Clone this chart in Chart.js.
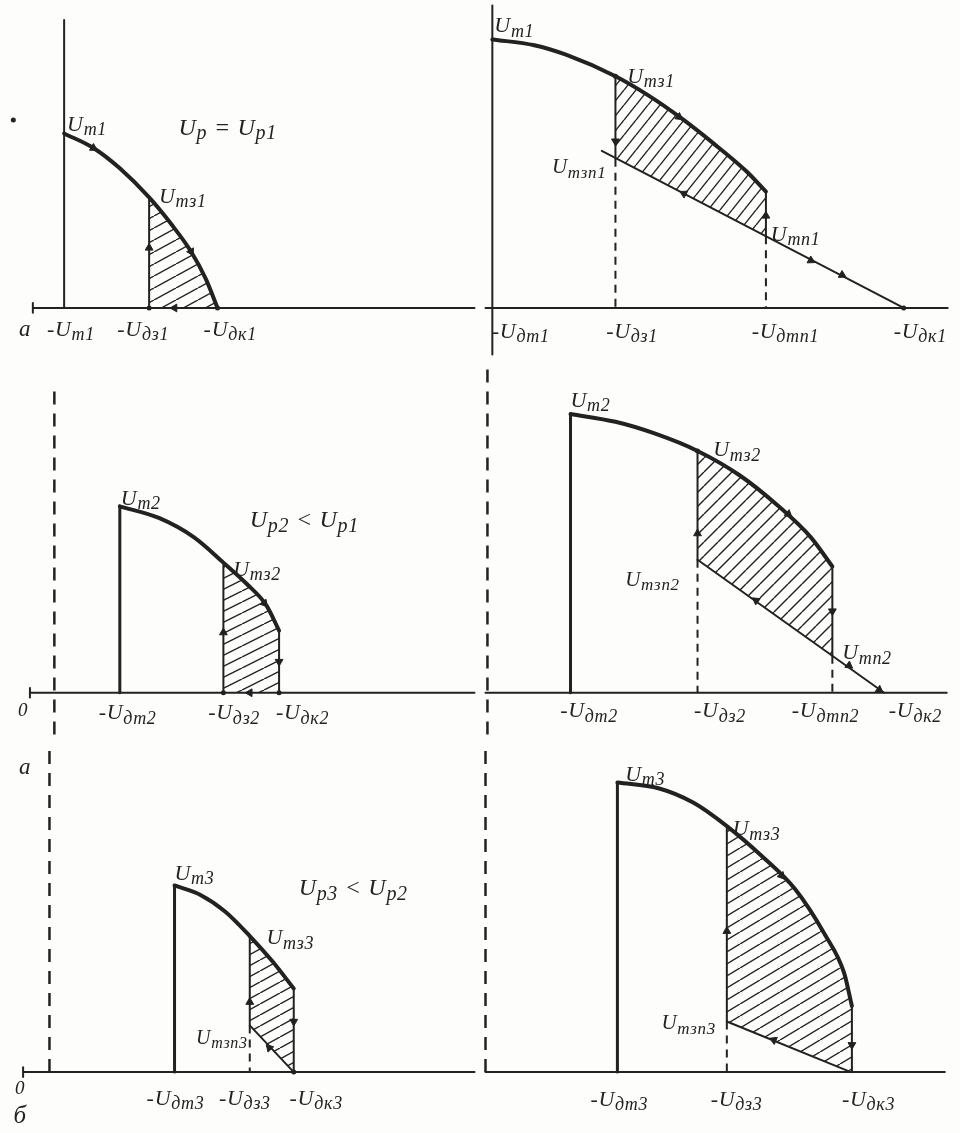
<!DOCTYPE html>
<html>
<head>
<meta charset="utf-8">
<title>Характеристики</title>
<script src="https://cdn.jsdelivr.net/npm/chart.js@4.4.1/dist/chart.umd.min.js"></script>
<style>
  body { margin: 0; background: #fdfdfc; }
  #sheet { position: relative; width: 960px; height: 1133px; overflow: hidden; }
  #sheet canvas { position: absolute; }
</style>
</head>
<body>
<div id="sheet"></div>
<script>
// six panels, values: x to the right of each panel's vertical axis, y above its horizontal axis

// thick working characteristic of every panel
const curves = [
  [[0,180],[30,165],[57,144],[87,114],[110,86],[130,58],[145,30],[157,0]],
  [[0,277],[43,271],[76,261],[126,239],[160,219],[193,196],[226,170],[260,141],[280,120]],
  [[67,192],[107,180],[143,160],[173,134],[197,112],[217,90],[230,64]],
  [[85,287],[131,279],[171,267],[215,249],[258,224],[298,192],[331,160],[353,130]],
  [[128,192],[155,182],[180,165],[205,140],[229,113],[250,86]],
  [[135,298],[177,292],[213,277],[247,253],[283,222],[317,188],[347,142],[367,102],[375,68]]
];
// bottom corners of the hatched zone: [left, right]
const hatchFoot = [
  [[87,0],[157,0]],
  [[126,154],[280,74]],
  [[173,0],[230,0]],
  [[215,137],[353,38]],
  [[205,48],[250,0]],
  [[247,52],[375,0]]
];
// sloping load line
const lowerLines = [
  null,
  [[112,162],[421,0]],
  null,
  [[215,137],[406,0]],
  [[205,48],[250,0]],
  [[247,52],[374,0]]
];
// horizontal axis extent, vertical axis extent, dashed vertical axis, small tick on the axis
const xAxes = [[-32,420],[-7,466],[-25,430],[-2,470],[-27,435],[0,470]];
const yAxes = [[0,297],[-48,312],[-43,317],[-43,337],[0,336],[0,336]];
const yDashed = [false, false, true, true, true, true];
const axisTicks = [-32, null, -25, null, -27, null];
// direction arrows: [x, y, angle clockwise from up]
const arrows = [
  [[30,165,120],[130,58,150],[87,62,0],[113,0,270]],
  [[191,197,127],[126,172,180],[280,95,0],[196,118,298],[326,49,118],[358,34,118]],
  [[215,92,140],[173,62,0],[230,32,180],[200,0,270]],
  [[308,184,130],[215,164,0],[353,84,180],[275,95,306],[370,28,126],[401,3,126]],
  [[205,72,0],[250,52,180],[225,25,317]],
  [[303,202,140],[247,145,0],[375,28,180],[295,33,293]]
];
const dots = [
  [[87,0],[157,0],[-52,194]],
  [[126,239],[421,0]],
  [[173,0],[230,0]],
  [[215,249]],
  [[250,0]],
  []
];
// labels: [x, y, text, size]; "_" starts a subscript
const pointLabels = [
  [[3,190,'U_т1',22],[117,187,'U_р = U_р1',24],[97,116,'U_тз1',22]],
  [[2,292,'U_т1',22],[138,240,'U_тз1',22],[61,146,'U_тзп1',21],[285,77,'U_тп1',22]],
  [[68,201,'U_т2',22],[200,179,'U_р2 < U_р1',24],[183,128,'U_тз2',22]],
  [[85,302,'U_т2',22],[231,251,'U_тз2',22],[141,117,'U_тзп2',21],[363,42,'U_тп2',22]],
  [[128,205,'U_т3',22],[255,190,'U_р3 < U_р2',24],[222,139,'U_тз3',22],[150,36,'U_тзп3',20]],
  [[143,307,'U_т3',22],[253,251,'U_тз3',22],[180,51,'U_тзп3',21]]
];
const axisLabels = [
  [[-40,-21,'а',23],[7,-21,'-U_т1',22],[81,-21,'-U_дз1',22],[170,-21,'-U_дк1',22]],
  [[29,-23,'-U_дт1',22],[143,-23,'-U_дз1',22],[300,-23,'-U_дтп1',22],[438,-23,'-U_дк1',22]],
  [[-32,-18,'0',19],[75,-20,'-U_дт2',22],[184,-20,'-U_дз2',22],[254,-20,'-U_дк2',22]],
  [[104,-18,'-U_дт2',22],[238,-18,'-U_дз2',22],[346,-18,'-U_дтп2',22],[438,-18,'-U_дк2',22]],
  [[-25,314,'а',23],[-30,-16,'0',19],[-30,-44,'б',25],[129,-26,'-U_дт3',22],[200,-26,'-U_дз3',22],[273,-26,'-U_дк3',22]],
  [[137,-27,'-U_дт3',22],[257,-27,'-U_дз3',22],[392,-27,'-U_дк3',22]]
];

// layout of the six canvases: left, top, width, height, origin x, origin y (pixels)
const frames = [
  [0, 0, 480, 360, 60, 312],
  [480, 0, 480, 360, 7, 312],
  [0, 360, 480, 380, 50, 337],
  [480, 360, 480, 380, 2, 337],
  [0, 740, 480, 393, 45, 336],
  [480, 740, 480, 393, 0, 336]
];
const hatchTiles = [[22,12],[12,15],[22,11],[14,14],[20,11],[20,12]];

const INK = '#222222';
const HAND = '"Liberation Serif", "DejaVu Serif", serif';

function pts(a) { return a.map(p => ({x: p[0], y: p[1]})); }

function stroke(a, width, dash) {
  return {
    data: pts(a), borderColor: INK, borderWidth: width,
    borderDash: dash || [], borderCapStyle: dash ? 'butt' : 'round', borderJoinStyle: 'round',
    tension: 0, pointRadius: 0, fill: false, clip: false
  };
}

function hatchPattern(ctx, tile) {
  const [w, h] = tile;
  const c = document.createElement('canvas');
  c.width = w; c.height = h;
  const g = c.getContext('2d');
  g.strokeStyle = INK;
  g.lineWidth = 1.4;
  for (const dx of [-w, 0, w]) {
    g.beginPath(); g.moveTo(dx, h); g.lineTo(dx + w, 0); g.stroke();
  }
  return ctx.createPattern(c, 'repeat');
}

function panelSets(i) {
  const sets = [];
  const c = curves[i];
  const [left, right] = hatchFoot[i];
  let pat = null;
  // hatched zone: top part of the curve filled down to the line joining the two feet
  sets.push({
    data: pts(c.filter(p => p[0] >= left[0])), cubicInterpolationMode: 'monotone',
    fill: '+1', borderWidth: 0, pointRadius: 0, clip: false,
    backgroundColor: ctx => (pat = pat || hatchPattern(ctx.chart.ctx, hatchTiles[i]))
  });
  sets.push({ data: pts([left, right]), borderWidth: 0, pointRadius: 0, fill: false, clip: false, borderColor: 'rgba(0,0,0,0)' });
  sets.push(stroke([[xAxes[i][0], 0], [xAxes[i][1], 0]], 2));
  sets.push(stroke([[0, yAxes[i][0]], [0, yAxes[i][1]]], yDashed[i] ? 2.5 : 2, yDashed[i] ? [13, 9] : null));
  if (axisTicks[i] !== null) sets.push(stroke([[axisTicks[i], -5], [axisTicks[i], 5]], 2));
  if (c[0][0] > 0) sets.push(stroke([[c[0][0], 0], c[0]], 3));
  const curve = stroke(c, 4);
  curve.cubicInterpolationMode = 'monotone';
  sets.push(curve);
  const top = c.find(p => p[0] >= left[0]);
  sets.push(stroke([top, left], 2));
  if (left[1] > 0) sets.push(stroke([left, [left[0], 0]], 2, [8, 6]));
  const end = c[c.length - 1];
  if (end[1] > right[1]) sets.push(stroke([end, right], 2));
  if (right[1] > 0) sets.push(stroke([right, [right[0], 0]], 2, [8, 6]));
  if (lowerLines[i]) sets.push(stroke(lowerLines[i], 2));
  sets.push({
    data: pts(arrows[i]), showLine: false, pointStyle: 'triangle', pointRadius: 4.5,
    pointRotation: arrows[i].map(a => a[2]), backgroundColor: INK, borderColor: INK, borderWidth: 1, clip: false
  });
  sets.push({
    data: pts(dots[i]), showLine: false, pointStyle: 'circle', pointRadius: 2.5,
    backgroundColor: INK, borderColor: INK, borderWidth: 0, clip: false
  });
  return sets;
}

function drawHand(ctx, x, y, text, size, align) {
  const parts = [];
  text.split(/(_\S+)/).forEach(t => {
    if (!t) return;
    if (t[0] === '_') parts.push([t.slice(1), true]); else parts.push([t, false]);
  });
  const sub = Math.round(size * 0.82);
  const fontOf = s => 'italic ' + (s ? sub : size) + 'px ' + HAND;
  const gap = 0.7;
  let w = 0;
  for (const [t, s] of parts) { ctx.font = fontOf(s); w += ctx.measureText(t).width + gap * t.length; }
  let cx = align === 'center' ? x - w / 2 : x;
  const base = y + size * 0.33;
  for (const [t, s] of parts) {
    ctx.font = fontOf(s);
    for (const ch of t) {
      ctx.fillText(ch, cx, s ? base + size * 0.2 : base);
      cx += ctx.measureText(ch).width + gap;
    }
  }
}

function textLayer(i) {
  return {
    id: 'handText' + i,
    afterDatasetsDraw(chart) {
      const {ctx, scales: {x, y}} = chart;
      ctx.save();
      ctx.fillStyle = INK;
      ctx.textBaseline = 'alphabetic';
      for (const [vx, vy, t, s] of pointLabels[i]) drawHand(ctx, x.getPixelForValue(vx), y.getPixelForValue(vy), t, s, 'left');
      for (const [vx, vy, t, s] of axisLabels[i]) drawHand(ctx, x.getPixelForValue(vx), y.getPixelForValue(vy), t, s, 'center');
      ctx.restore();
    }
  };
}

const sheet = document.getElementById('sheet');
frames.forEach(([left, top, w, h, ox, oy], i) => {
  const cv = document.createElement('canvas');
  cv.width = w; cv.height = h;
  cv.style.left = left + 'px'; cv.style.top = top + 'px';
  cv.style.width = w + 'px'; cv.style.height = h + 'px';
  sheet.appendChild(cv);
  new Chart(cv, {
    type: 'line',
    data: { datasets: panelSets(i) },
    options: {
      responsive: false,
      animation: false,
      events: [],
      layout: { padding: 0 },
      scales: {
        x: { type: 'linear', min: -ox, max: w - ox, display: false },
        y: { type: 'linear', min: oy - h, max: oy, display: false }
      },
      plugins: { legend: { display: false }, tooltip: { enabled: false } }
    },
    plugins: [textLayer(i)]
  });
});
</script>
</body>
</html>
